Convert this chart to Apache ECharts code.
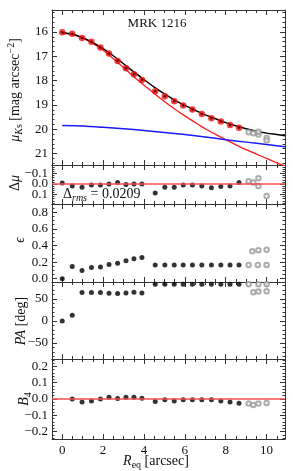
<!DOCTYPE html>
<html><head><meta charset="utf-8">
<script src="https://cdn.jsdelivr.net/npm/echarts@6/dist/echarts.min.js"></script>
<style>html,body{margin:0;padding:0;background:#fff}#c{width:293px;height:471px}</style>
</head><body><div id="c"></div>
<script>
// ---- data ----
const radius = [0, 0.49, 0.97, 1.43, 1.87, 2.29, 2.71, 3.12, 3.51, 3.9, 4.55, 5.02, 5.48, 5.92, 6.37, 6.83, 7.3, 7.76, 8.21, 8.65];
const muData = [16.01, 16.08, 16.25, 16.4, 16.64, 16.89, 17.2, 17.49, 17.74, 17.98, 18.44, 18.64, 18.85, 19.02, 19.19, 19.37, 19.55, 19.68, 19.83, 19.94];
const muOpenR = [9.12, 9.35, 9.6, 9.6, 10.0, 10.0];
const muOpen = [20.12, 20.17, 20.22, 20.1, 20.36, 20.46];

const modelR = [0, 0.5, 1, 1.5, 2, 2.5, 3, 3.5, 4, 4.5, 5, 5.5, 6, 6.5, 7, 7.5, 8, 8.5, 9, 9.5, 10, 10.5, 10.9];
const muTotal = [16.03, 16.09, 16.24, 16.44, 16.69, 16.98, 17.31, 17.64, 17.96, 18.27, 18.55, 18.8, 19.02, 19.22, 19.41, 19.57, 19.73, 19.86, 19.98, 20.08, 20.16, 20.22, 20.27];
const muBulge = [16.06, 16.11, 16.26, 16.47, 16.75, 17.1, 17.46, 17.84, 18.19, 18.53, 18.86, 19.17, 19.45, 19.72, 19.98, 20.21, 20.43, 20.64, 20.84, 21.02, 21.2, 21.38, 21.52];
const diskR = [0, 1, 2, 3, 4, 5, 6, 7, 8, 9, 10, 10.9];
const muDisk = [19.85, 19.87, 19.92, 19.98, 20.05, 20.13, 20.22, 20.32, 20.43, 20.53, 20.63, 20.72];

const dMu = [-0.01, 0.02, 0.03, 0.01, 0.01, 0.0, -0.015, 0.005, 0.0, 0.0, 0.085, 0.03, 0.03, 0.01, 0.01, 0.02, 0.035, 0.025, 0.02, -0.015];
const dMuOpenR = [9.12, 9.35, 9.6, 9.6, 10.0];
const dMuOpen = [-0.025, -0.015, -0.055, 0.02, 0.115];

const eps = [0.0, 0.147, 0.099, 0.135, 0.142, 0.171, 0.187, 0.215, 0.239, 0.255, 0.166, 0.166, 0.166, 0.166, 0.166, 0.166, 0.166, 0.166, 0.166, 0.166];
const epsOpenR = [9.12, 9.57, 10.0, 9.3, 9.6, 10.0];
const epsOpen = [0.166, 0.166, 0.166, 0.33, 0.343, 0.35];

const pa = [0, 13, 64, 64, 64, 62.5, 62, 63, 65, 63, 83, 83, 83, 83, 83, 83, 83, 83, 83, 83];
const paOpenR = [9.12, 9.6, 10.0, 9.35, 9.6, 10.0];
const paOpen = [83, 83, 83, 65, 66.5, 67];

const b4R = [0.49, 0.97, 1.43, 1.87, 2.29, 2.71, 3.12, 3.51, 3.9, 4.55, 5.02, 5.48, 5.92, 6.37, 6.83, 7.3, 7.76, 8.21, 8.65];
const b4 = [0.0, -0.018, -0.013, 0.0, 0.01, 0.003, 0.01, 0.011, 0.005, -0.015, -0.005, -0.013, -0.005, -0.005, -0.005, -0.005, -0.013, -0.018, -0.026];
const b4OpenR = [9.12, 9.35, 9.6, 10.0];
const b4Open = [-0.028, -0.036, -0.028, -0.024];

const xTicks = [0, 2, 4, 6, 8, 10];

// ---- layout ----
const FONT = 'Liberation Serif';
const AX = '#333';
const zip = (a, b) => a.map((v, i) => [v, b[i]]);
const neg = v => (v < 0 ? '\u2212' : '') + Math.abs(v);
const f1 = v => (v < 0 ? '\u2212' : '') + Math.abs(v).toFixed(1);

const panels = [
  {top: 10, height: 155, min: 15.1, max: 21.47, iv: 1, minor: 5, inverse: true, fmt: v => String(v)},
  {top: 165, height: 39, min: -0.18, max: 0.19, iv: 0.1, minor: 5, inverse: true, fmt: f1},
  {top: 204, height: 78, min: -0.04, max: 0.9, iv: 0.2, minor: 4, inverse: false, fmt: f1},
  {top: 282, height: 77, min: -86, max: 88, iv: 50, minor: 5, inverse: false, fmt: neg},
  {top: 359, height: 80, min: -0.245, max: 0.245, iv: 0.1, minor: 5, inverse: false, fmt: f1}
];

const grid = [], xAxis = [], yAxis = [];
panels.forEach((p, i) => {
  grid.push({left: 52, right: 8, top: p.top, height: p.height, containLabel: false});
  ['bottom', 'top'].forEach(pos => {
    const showLab = (i === 4 && pos === 'bottom');
    xAxis.push({
      type: 'value', gridIndex: i, position: pos, min: -0.5, max: 10.9,
      minInterval: 2, maxInterval: 2,
      axisLine: {show: true, onZero: false, lineStyle: {color: AX, width: 1}},
      axisTick: {show: true, inside: true, length: 5, lineStyle: {color: AX}},
      minorTick: {show: true, splitNumber: 4, length: 3, lineStyle: {color: AX}},
      splitLine: {show: false},
      axisLabel: {show: showLab, showMinLabel: false, showMaxLabel: false, margin: 5,
        fontFamily: FONT, fontSize: 13, color: '#111', formatter: v => (xTicks.includes(v) ? String(v) : '')}
    });
  });
  ['left', 'right'].forEach(pos => {
    yAxis.push({
      type: 'value', gridIndex: i, position: pos, min: p.min, max: p.max, inverse: p.inverse,
      minInterval: p.iv, maxInterval: p.iv,
      axisLine: {show: true, onZero: false, lineStyle: {color: AX, width: 1}},
      axisTick: {show: true, inside: true, length: 5, lineStyle: {color: AX}},
      minorTick: {show: true, splitNumber: p.minor, length: 2.5, lineStyle: {color: AX}},
      splitLine: {show: false},
      axisLabel: {show: pos === 'left', showMinLabel: false, showMaxLabel: false, margin: 4,
        fontFamily: FONT, fontSize: 13, color: '#111', formatter: p.fmt}
    });
  });
});

const dot = (data, gi, size) => ({
  type: 'scatter', xAxisIndex: 2 * gi, yAxisIndex: 2 * gi, data: data, symbol: 'circle',
  symbolSize: size || 5, itemStyle: {color: '#000'}, z: 4, silent: true
});
const open = (data, gi) => ({
  type: 'scatter', xAxisIndex: 2 * gi, yAxisIndex: 2 * gi, data: data, symbol: 'emptyCircle',
  symbolSize: 4.5, itemStyle: {color: '#999', borderWidth: 0.6}, z: 4, silent: true
});
const curve = (data, color, w) => ({
  type: 'line', xAxisIndex: 0, yAxisIndex: 0, data: data, showSymbol: false, smooth: 0.3,
  lineStyle: {color: color, width: w}, z: 2, silent: true, clip: true
});
const zeroLine = gi => ({
  type: 'line', xAxisIndex: 2 * gi, yAxisIndex: 2 * gi, data: [], z: 1, silent: true,
  markLine: {silent: true, symbol: 'none', label: {show: false},
    lineStyle: {color: '#f05050', width: 1.6, type: 'solid'}, data: [{yAxis: 0}]}
});

const series = [
  curve(zip(modelR, muBulge), '#ff1a1a', 1.3),
  curve(zip(diskR, muDisk), '#1a1aff', 1.5),
  curve(zip(modelR, muTotal), '#000', 1.5),
  {type: 'scatter', xAxisIndex: 0, yAxisIndex: 0, data: zip(radius, muData), symbol: 'circle',
    symbolSize: 6.5, itemStyle: {color: '#ee1111'}, z: 4, silent: true},
  {type: 'scatter', xAxisIndex: 0, yAxisIndex: 0, data: zip(radius, muData), symbol: 'circle',
    symbolSize: 2.5, itemStyle: {color: '#400'}, z: 5, silent: true},
  open(zip(muOpenR, muOpen), 0),
  zeroLine(1),
  dot(zip(radius, dMu), 1),
  open(zip(dMuOpenR, dMuOpen), 1),
  dot(zip(radius, eps), 2),
  open(zip(epsOpenR, epsOpen), 2),
  dot(zip(radius, pa), 3),
  open(zip(paOpenR, paOpen), 3),
  zeroLine(4),
  dot(zip(b4R, b4), 4),
  open(zip(b4OpenR, b4Open), 4)
];

const T = (x, y, rot, text, rich, extra) => Object.assign({
  type: 'text', x: x, y: y, rotation: rot, silent: true, z: 10,
  style: Object.assign({text: text, rich: rich, fontFamily: FONT, fill: '#111',
    align: 'center', verticalAlign: 'middle'}, extra || {})
}, {});

const base = {fontFamily: FONT, fontSize: 14, lineHeight: 18, verticalAlign: 'middle', fill: '#111'};
const rich = {
  n: Object.assign({}, base),
  i: Object.assign({}, base, {fontStyle: 'italic'}),
  sub: Object.assign({}, base, {fontSize: 10, fontStyle: 'italic', verticalAlign: 'bottom', lineHeight: 18}),
  subn: Object.assign({}, base, {fontSize: 10, verticalAlign: 'bottom', lineHeight: 18}),
  sup: Object.assign({}, base, {fontSize: 10, verticalAlign: 'top', lineHeight: 18})
};
const R90 = Math.PI / 2;

const graphic = [
  T(157, 24, 0, '{n|MRK 1216}', Object.assign({}, rich, {n: Object.assign({}, base, {fontSize: 13})})),
  T(15, 90, R90, '{i|\u03bc}{sub|K}{subn|s}{n| [mag arcsec}{sup|\u22122}{n|]}', rich),
  T(15, 183, R90, '{n|\u0394}{i|\u03bc}', rich),
  T(20, 240, R90, '{i|\u03f5}', rich),
  T(21, 321, R90, '{i|PA}{n| [deg]}', rich),
  T(24, 399, R90, '{i|B}{subn|4}', rich),
  T(156, 461, 0, '{i|R}{subn|eq}{n| [arcsec]}', rich),
  {type: 'text', x: 63, y: 194, silent: true, z: 10,
    style: {text: '{n|\u0394}{sub|rms}{n| = 0.0209}', rich: rich, fontFamily: FONT, fill: '#111',
      align: 'left', verticalAlign: 'middle'}}
];

const chart = echarts.init(document.getElementById('c'), null, {renderer: 'canvas'});
chart.setOption({
  animation: false,
  backgroundColor: '#fff',
  grid: grid, xAxis: xAxis, yAxis: yAxis, series: series, graphic: graphic
});
</script>
</body></html>
